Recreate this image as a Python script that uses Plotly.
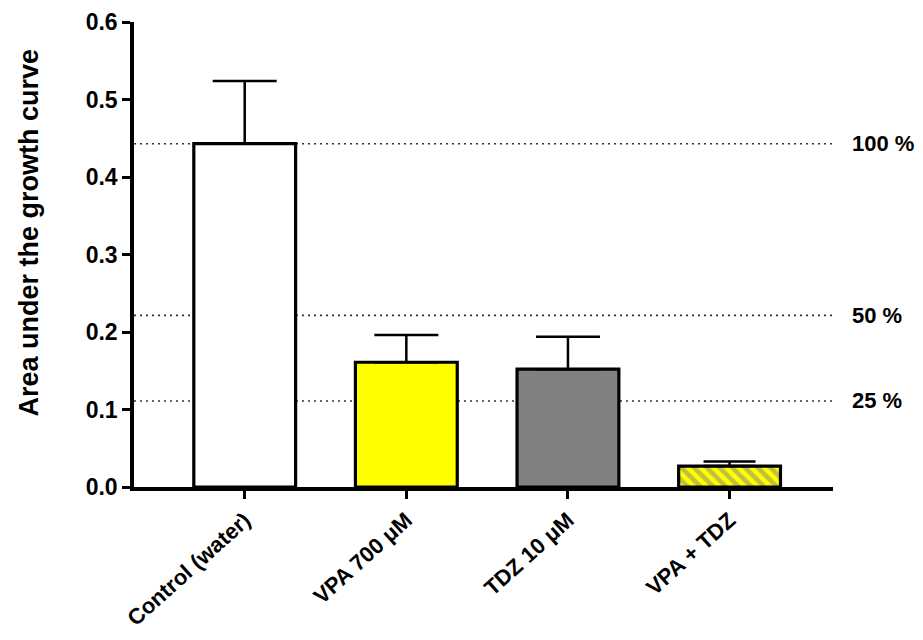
import plotly.graph_objects as go

categories = ["Control (water)", "VPA 700 μM", "TDZ 10 μM", "VPA + TDZ"]
values = [0.443, 0.161, 0.152, 0.027]
errors = [0.081, 0.035, 0.042, 0.006]
colors = ["#ffffff", "#ffff00", "#808080", "#ffff00"]
ref_levels = [0.443, 0.2215, 0.111]
ref_labels = ["100 %", "50 %", "25 %"]
y_title = "Area under the growth curve"

FONT = "Liberation Sans"

fig = go.Figure()
for i, (c, v, e, col) in enumerate(zip(categories, values, errors, colors)):
    marker = dict(color=col, line=dict(color="black", width=3.2))
    if i == 3:
        marker["pattern"] = dict(shape="\\", fgcolor="#808080", bgcolor="#ffff00",
                                 size=9, solidity=0.5, fillmode="overlay")
    fig.add_trace(go.Bar(
        x=[i], y=[v], width=0.63, marker=marker, showlegend=False,
        error_y=dict(type="data", array=[e], symmetric=False, arrayminus=[0],
                     color="black", thickness=2.5, width=32 if i < 3 else 26),
    ))

for lvl, lab in zip(ref_levels, ref_labels):
    fig.add_shape(type="line", xref="paper", x0=0, x1=1, yref="y", y0=lvl, y1=lvl,
                  line=dict(color="#333333", width=1.6, dash="2px,4px"), layer="below")
    fig.add_annotation(xref="paper", x=1, yref="y", y=lvl, text=lab, showarrow=False,
                       xanchor="left", xshift=17,
                       font=dict(family=FONT, size=22, color="black", weight="bold"))

fig.add_annotation(xref="paper", x=0, xshift=-106, yref="paper", y=0.5, yshift=22,
                   text=y_title, textangle=-90, showarrow=False,
                   xanchor="center", yanchor="middle",
                   font=dict(family=FONT, size=27, color="black", weight="bold"))

fig.update_layout(
    width=923, height=640,
    margin=dict(l=126, r=98, t=14, b=161, autoexpand=False),
    plot_bgcolor="white", paper_bgcolor="white",
    font=dict(family=FONT, color="black"),
)
fig.update_xaxes(
    range=[-0.685, 3.64], tickmode="array", tickvals=[0, 1, 2, 3], ticktext=categories,
    tickangle=-42, tickfont=dict(family=FONT, size=22, weight="bold"), automargin=False,
    showline=True, linecolor="black", linewidth=3.5, ticks="outside", ticklen=8,
    tickwidth=3, tickcolor="black", showgrid=False, zeroline=False,
)
fig.update_yaxes(
    range=[0, 0.6], tickmode="array", tickvals=[0, 0.1, 0.2, 0.3, 0.4, 0.5, 0.6],
    ticktext=["0.0", "0.1", "0.2", "0.3", "0.4", "0.5", "0.6"],
    tickfont=dict(family=FONT, size=23, weight="bold"), automargin=False,
    showline=True, linecolor="black", linewidth=3.5, ticks="outside", ticklen=8,
    tickwidth=3, tickcolor="black", showgrid=False, zeroline=False,
)

fig.write_html("out.html")
